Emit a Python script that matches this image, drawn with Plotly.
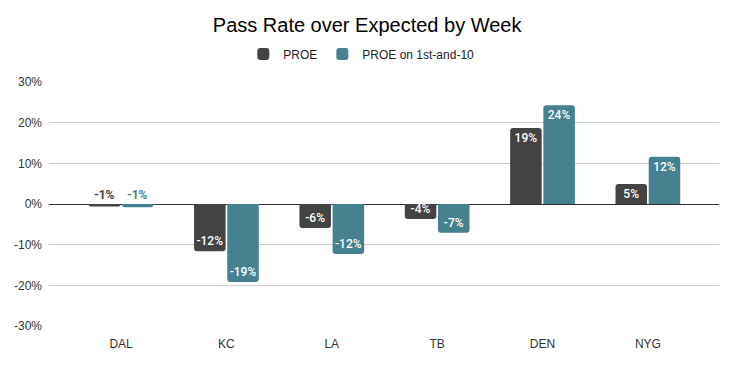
import plotly.graph_objects as go

teams = ["DAL", "KC", "LA", "TB", "DEN", "NYG"]
proe = [-0.6, -11.6, -5.9, -3.7, 18.7, 4.9]
proe_1st10 = [-0.8, -19.2, -12.3, -7.1, 24.3, 11.6]
y_ticks = [-30, -20, -10, 0, 10, 20, 30]

c1 = "#434343"
c2 = "#45818e"
axis_font = "'Liberation Sans', Arial, sans-serif"

def labels(vals):
    return [f"{round(v):.0f}%" if abs(v) >= 1.5 else "" for v in vals]

fig = go.Figure()
for name, vals, col in [("PROE", proe, c1), ("PROE on 1st-and-10", proe_1st10, c2)]:
    fig.add_trace(go.Bar(
        x=teams, y=vals, name=name, marker=dict(color=col, line=dict(width=0)),
        text=labels(vals), textposition="inside", insidetextanchor="end", textangle=0,
        textfont=dict(family="Roboto", size=12, color="white", weight=500),
        cliponaxis=False, hoverinfo="skip",
    ))

# small-bar labels (DAL) drawn above zero line
shadow = "1px 1px 0 #fff, -1px -1px 0 #fff, 1px -1px 0 #fff, -1px 1px 0 #fff"
for vals, col, shift in [(proe, c1, -16.6), (proe_1st10, c2, 16.6)]:
    for t, v in zip(teams, vals):
        if abs(v) < 1.5:
            fig.add_annotation(x=t, y=0, text=f"{round(v) if round(v)!=0 else -1:.0f}%",
                               xref="x", yref="y", showarrow=False, yanchor="bottom",
                               xshift=shift, yshift=0,
                               font=dict(family="Roboto", size=12, color=col, weight=700, shadow=shadow))

fig.update_layout(
    width=727, height=358,
    margin=dict(l=41, r=16, t=74, b=40, autoexpand=False),
    paper_bgcolor="white", plot_bgcolor="white",
    uniformtext=dict(minsize=12, mode="show"),
    title=dict(text="Pass Rate over Expected by Week", x=0.494, xref="container", xanchor="center",
               y=0.952, yanchor="middle",
               font=dict(family=axis_font, size=20, color="black")),
    legend=dict(orientation="h", xref="container", x=0.486, xanchor="center", y=1.115, yanchor="middle",
                font=dict(family=axis_font, size=12, color="#222"),
                itemwidth=30, traceorder="normal"),
    barmode="group", bargap=0.37, bargroupgap=0.05, barcornerradius=3,
    xaxis=dict(range=[-0.684, 5.675], showgrid=False, showline=False, ticks="",
               tickfont=dict(family=axis_font, size=12, color="#333"),
               ticklabelstandoff=9),
    yaxis=dict(range=[-30, 30], tickvals=y_ticks, ticktext=[f"{v}%" for v in y_ticks],
               showgrid=True, gridcolor="#cccccc", gridwidth=1,
               zeroline=True, zerolinecolor="#333333", zerolinewidth=1,
               tickfont=dict(family=axis_font, size=12, color="#333"),
               ticklabelstandoff=6),
    showlegend=True,
)

fig.write_html("out.html")
